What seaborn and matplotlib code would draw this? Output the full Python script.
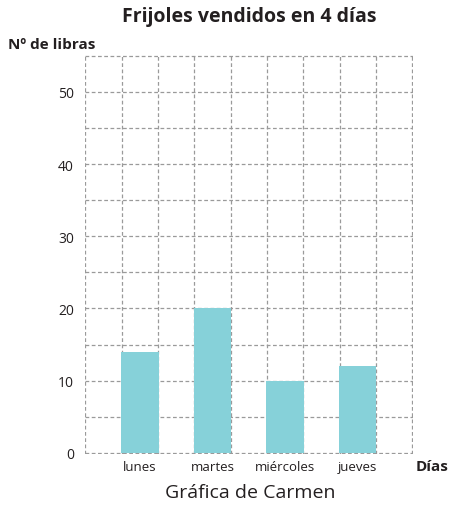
import numpy as np
import pandas as pd
import matplotlib
matplotlib.use("Agg")
import matplotlib.pyplot as plt
import seaborn as sns

# datos de la grafica
dias = ["lunes", "martes", "miércoles", "jueves"]
libras = [14, 20, 10, 12]
ticks_y = [0, 10, 20, 30, 40, 50]

df = pd.DataFrame({"dia": dias, "libras": libras})

sns.set_style("white")
plt.rcParams["font.family"] = ["Open Sans", "DejaVu Sans"]
texto = "#231f20"

fig = plt.figure(figsize=(4.54, 5.06), dpi=100)
ax = fig.add_axes([0.1872, 0.1008, 0.7225, 0.7885])

sns.barplot(data=df, x="dia", y="libras", order=dias, color="#86d1d9",
            width=0.515, saturation=1, linewidth=0, ax=ax, zorder=2)

# limites y rejilla punteada
ax.set_xlim(-0.755, 3.76)
ax.set_ylim(-0.15, 55.1)
ax.set_xticks(range(len(dias)))
ax.set_xticklabels(dias, fontsize=9.5, color=texto)
ax.set_xticks(np.arange(-0.75, 3.76, 0.5), minor=True)
ax.set_yticks(ticks_y)
ax.set_yticklabels([str(t) for t in ticks_y], fontsize=10, color=texto)
ax.set_yticks(np.arange(5, 56, 10), minor=True)
ax.tick_params(which="both", length=0, pad=4)
ax.tick_params(axis="y", pad=8)

ax.set_axisbelow(True)
ax.grid(False)
ax.grid(axis="x", which="minor", linestyle=(0, (3, 2)), color="#9a9a9a", linewidth=0.9)
ax.grid(axis="y", which="both", linestyle=(0, (3, 2)), color="#9a9a9a", linewidth=0.9)
for s in ax.spines.values():
    s.set_visible(False)

ax.set_xlabel("")
ax.set_ylabel("")

# textos
fig.text(0.55, 0.966, "Frijoles vendidos en 4 días", ha="center", va="center",
         fontsize=14, fontweight="bold", color=texto)
fig.text(0.018, 0.911, "Nº de libras", ha="left", va="center",
         fontsize=11, fontweight="bold", color=texto)
fig.text(0.916, 0.077, "Días", ha="left", va="center",
         fontsize=11, fontweight="bold", color=texto)
fig.text(0.552, 0.025, "Gráfica de Carmen", ha="center", va="center",
         fontsize=14, color=texto)

fig.savefig("out.png", dpi=100)
plt.close()
